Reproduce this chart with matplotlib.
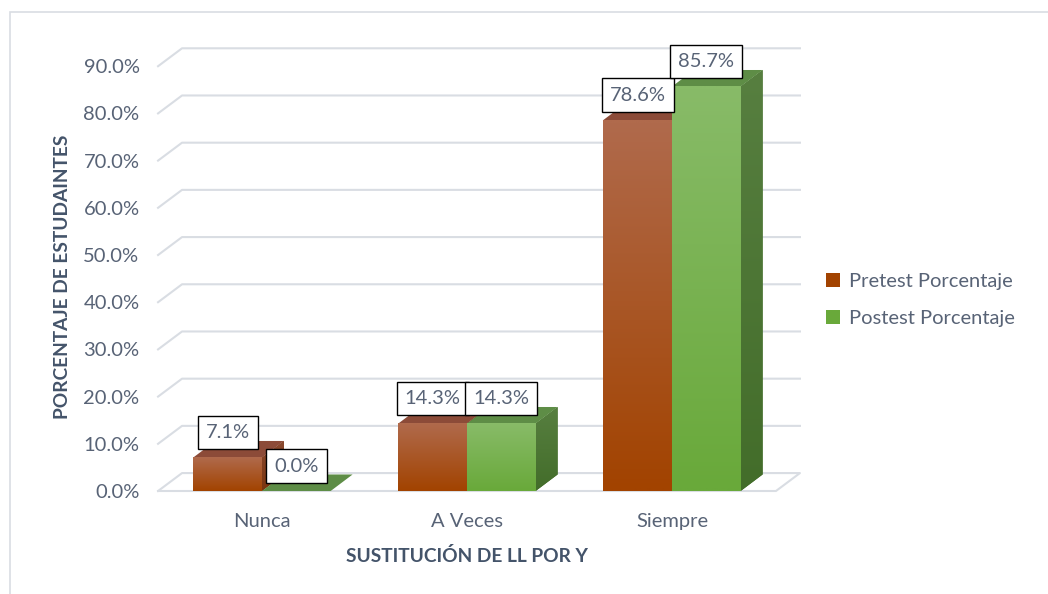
import numpy as np
import matplotlib
matplotlib.use('Agg')
import matplotlib.pyplot as plt
from matplotlib.patches import Polygon, Patch, Rectangle
from matplotlib.colors import to_rgb

plt.rcParams['font.family'] = ['Lato', 'DejaVu Sans']

# ---------------------------------------------------------------------------
# data
# ---------------------------------------------------------------------------
categories = ['Nunca', 'A Veces', 'Siempre']
pretest = [7.1, 14.3, 78.6]
postest = [0.0, 14.3, 85.7]
series_names = ['Pretest Porcentaje', 'Postest Porcentaje']
yticks = [0, 10, 20, 30, 40, 50, 60, 70, 80, 90]

# ---------------------------------------------------------------------------
# styles
# ---------------------------------------------------------------------------
TXT = '#586376'
TITLE = '#44546A'
GRID = '#d9dde3'
FS = 14.5
brown = {'bottom': '#a24300', 'top': '#b06a4c', 'cap': '#8c4b38',
         'side_b': '#7a3510', 'side_t': '#8a4a30'}
green = {'bottom': '#69a93a', 'top': '#88bb68', 'cap': '#5e8d46',
         'side_b': '#436d2a', 'side_t': '#577f40'}

W = 0.335                      # width of one bar (category units)
BAR_DX, BAR_DY = 0.107, 3.5    # bar depth offset
WALL_DX, WALL_DY = 0.117, 3.8  # floor / wall depth offset
X_LEFT, X_RIGHT = -0.507, 2.507

fig = plt.figure(figsize=(10.48, 5.94), dpi=100)
ax = fig.add_axes([0.1424, 0.1575, 0.626, 0.7787])
for s in ax.spines.values():
    s.set_visible(False)

# outer chart frame
fig.patches.append(Rectangle((10 / 1048, -0.1), 1.2, 1 - 12 / 594 + 0.1,
                             transform=fig.transFigure, fill=False,
                             edgecolor='#d9dde3', lw=1.2))

# gridlines: side wall diagonal + back wall
for t in yticks[1:]:
    ax.plot([X_LEFT, X_LEFT + WALL_DX, X_RIGHT + WALL_DX],
            [t, t + WALL_DY, t + WALL_DY], color=GRID, lw=1.5, zorder=1)
# floor
ax.plot([X_LEFT, X_RIGHT, X_RIGHT + WALL_DX, X_LEFT + WALL_DX, X_LEFT],
        [0, 0, WALL_DY, WALL_DY, 0], color=GRID, lw=1.5, zorder=1)


def grad(c_bottom, c_top, n=64):
    b, t = np.array(to_rgb(c_bottom)), np.array(to_rgb(c_top))
    f = np.linspace(0, 1, n)[:, None]
    return (b + (t - b) * f)[:, None, :]


def bar3d(x0, v, c, z):
    # right side (gradient clipped to the parallelogram)
    side = Polygon([(x0 + W, 0), (x0 + W + BAR_DX, BAR_DY),
                    (x0 + W + BAR_DX, v + BAR_DY), (x0 + W, v)],
                   closed=True, facecolor=c['side_b'], edgecolor='none', zorder=z)
    ax.add_patch(side)
    if v > 0:
        im = ax.imshow(grad(c['side_b'], c['side_t']),
                       extent=[x0 + W, x0 + W + BAR_DX, 0, v + BAR_DY],
                       origin='lower', aspect='auto', zorder=z + 0.1,
                       interpolation='bilinear')
        im.set_clip_path(side)
    # top
    ax.add_patch(Polygon([(x0, v), (x0 + W, v), (x0 + W + BAR_DX, v + BAR_DY),
                          (x0 + BAR_DX, v + BAR_DY)],
                         closed=True, facecolor=c['cap'], edgecolor='none', zorder=z + 0.2))
    # front
    if v > 0:
        ax.imshow(grad(c['bottom'], c['top']), extent=[x0, x0 + W, 0, v],
                  origin='lower', aspect='auto', zorder=z + 0.5, interpolation='bilinear')


x = np.arange(len(categories))
for i in range(len(categories)):
    bar3d(x[i] - W, pretest[i], brown, 2 + i)
    bar3d(x[i], postest[i], green, 2.6 + i)

ax.set_xlim(-0.55, 2.65)
ax.set_ylim(-2, 96)

# data labels
for i in range(len(categories)):
    for xc, v in [(x[i] - W / 2, pretest[i]), (x[i] + W / 2, postest[i])]:
        ax.annotate(f'{v:.1f}%', (xc, v), xytext=(0, 18), textcoords='offset points',
                    ha='center', va='center', fontsize=FS, color=TXT, zorder=10,
                    bbox=dict(boxstyle='square,pad=0.4', facecolor='white',
                              edgecolor='black', lw=1))

ax.set_yticks(yticks)
ax.set_yticklabels([f'{t:.1f}%' for t in yticks], fontsize=FS, color=TXT)
ax.set_xticks(x)
ax.set_xticklabels(categories, fontsize=FS, color=TXT)
ax.tick_params(axis='y', length=0, pad=7)
ax.tick_params(axis='x', length=0, pad=9)

fig.text(63 / 1048, 1 - 277 / 594, 'PORCENTAJE DE ESTUDAINTES', rotation=90,
         ha='center', va='center', fontsize=13.8, fontweight='bold', color=TITLE)
fig.text(467 / 1048, 1 - 556 / 594, 'SUSTITUCIÓN DE LL POR Y',
         ha='center', va='center', fontsize=13.8, fontweight='bold', color=TITLE)

handles = [Patch(facecolor=brown['bottom']), Patch(facecolor=green['bottom'])]
fig.legend(handles, series_names, loc='center left',
           bbox_to_anchor=(808 / 1048, 1 - 300 / 594), frameon=False,
           fontsize=FS, labelcolor=TXT, handlelength=0.7, handleheight=0.7,
           handletextpad=0.45, labelspacing=0.95)

fig.savefig('out.png', dpi=100)
